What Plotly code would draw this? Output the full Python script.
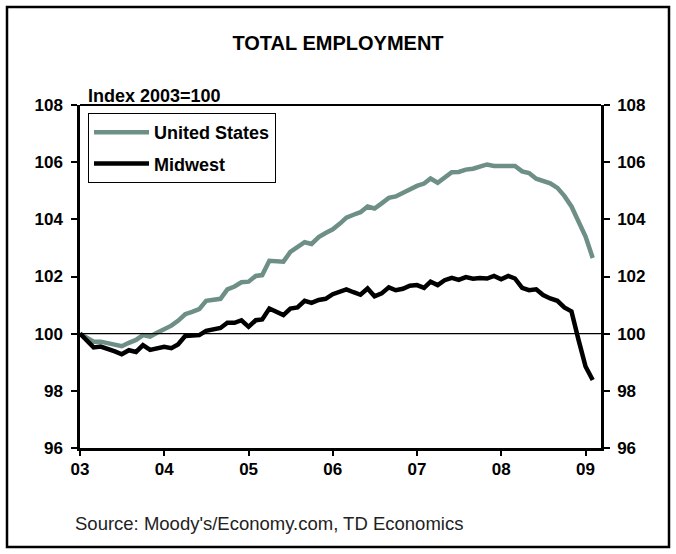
import pandas as pd
import plotly.graph_objects as go

# Monthly index, Jan 2003 = 100 (Jan 2003 .. Feb 2009)
months = pd.date_range("2003-01-01", periods=74, freq="MS")

us = [100.0, 99.85, 99.72, 99.72, 99.68, 99.62, 99.56, 99.68, 99.78, 99.95,
      99.9, 100.03, 100.15, 100.28, 100.45, 100.68, 100.76, 100.86, 101.15, 101.18,
      101.22, 101.55, 101.65, 101.8, 101.82, 102.02, 102.05, 102.55, 102.55, 102.52,
      102.86, 103.02, 103.2, 103.14, 103.38, 103.52, 103.65, 103.85, 104.06, 104.16,
      104.25, 104.45, 104.38, 104.56, 104.75, 104.8, 104.93, 105.07, 105.17, 105.25,
      105.43, 105.28, 105.48, 105.65, 105.66, 105.74, 105.77, 105.84, 105.92, 105.87,
      105.86, 105.88, 105.87, 105.68, 105.62, 105.42, 105.36, 105.26, 105.1, 104.82,
      104.45, 103.95, 103.4, 102.65]

midwest = [100.0, 99.75, 99.52, 99.55, 99.48, 99.38, 99.28, 99.42, 99.36, 99.6,
           99.43, 99.48, 99.54, 99.49, 99.62, 99.92, 99.95, 99.95, 100.1, 100.14,
           100.2, 100.38, 100.38, 100.47, 100.24, 100.47, 100.5, 100.88, 100.75, 100.65,
           100.88, 100.92, 101.15, 101.08, 101.18, 101.22, 101.38, 101.47, 101.55, 101.45,
           101.36, 101.58, 101.31, 101.41, 101.62, 101.52, 101.57, 101.68, 101.7, 101.6,
           101.82, 101.7, 101.87, 101.95, 101.88, 101.98, 101.92, 101.95, 101.93, 102.02,
           101.9, 102.02, 101.93, 101.6, 101.52, 101.55, 101.35, 101.23, 101.15, 100.92,
           100.78, 99.8, 98.85, 98.38]

year_ticks = pd.date_range("2003-01-01", "2009-01-01", freq="YS")
year_labels = ["03", "04", "05", "06", "07", "08", "09"]
y_ticks = [96, 98, 100, 102, 104, 106, 108]
y_labels = ["96", "98", "100", "102", "104", "106", "108"]

W, H = 676, 554
ml, mr, mt, mb = 80, 75, 105, 106
pw, ph = W - ml - mr, H - mt - mb


def px_x(px):
    return (px - ml) / pw


def px_y(py):
    return (H - mb - py) / ph


def bold(labels):
    return ["<b>%s</b>" % s for s in labels]


FONT = "Liberation Sans, Arial, sans-serif"
US_COLOR = "#6D8F86"

fig = go.Figure()
fig.add_trace(go.Scatter(x=months, y=us, mode="lines", name="United States",
                         line=dict(color=US_COLOR, width=4.5), legendgroup="a"))
fig.add_trace(go.Scatter(x=months, y=midwest, mode="lines", name="Midwest",
                         line=dict(color="black", width=4.5), legendgroup="b"))
# invisible trace on right axis to show it
fig.add_trace(go.Scatter(x=months[:1], y=[100], yaxis="y2", mode="markers",
                         marker=dict(opacity=0), showlegend=False, hoverinfo="skip"))

tickfont = dict(family=FONT, size=17, color="black")

fig.update_layout(
    width=W, height=H,
    margin=dict(l=ml, r=mr, t=mt, b=mb),
    paper_bgcolor="white", plot_bgcolor="white",
    font=dict(family=FONT, color="black"),
    title=dict(text="<b>TOTAL EMPLOYMENT</b>", x=0.5, xref="container", xanchor="center",
               y=1 - 43 / H, yref="container", yanchor="middle",
               font=dict(family=FONT, size=20, color="black")),
    xaxis=dict(range=[pd.Timestamp("2003-01-01"), pd.Timestamp("2009-03-09")],
               tickvals=year_ticks, ticktext=bold(year_labels), ticks="outside",
               ticklen=5, tickwidth=2, tickcolor="black", showline=True,
               linecolor="black", linewidth=2.5, showgrid=False, zeroline=False,
               tickfont=tickfont, ticklabelstandoff=-1),
    yaxis=dict(range=[96, 108], tickvals=y_ticks, ticktext=bold(y_labels),
               ticks="outside", ticklen=6,
               tickwidth=2, tickcolor="black", showline=True, linecolor="black",
               linewidth=2.5, showgrid=False, zeroline=False, tickfont=tickfont,
               ticklabelstandoff=5),
    yaxis2=dict(range=[96, 108], tickvals=y_ticks, ticktext=bold(y_labels),
                overlaying="y", side="right",
                ticks="outside", ticklen=6, tickwidth=2, tickcolor="black",
                showline=True, linecolor="black", linewidth=2.5, showgrid=False,
                zeroline=False, tickfont=tickfont, ticklabelstandoff=4),
    legend=dict(x=px_x(88), y=px_y(113), xanchor="left", yanchor="top",
                bgcolor="white", bordercolor="black", borderwidth=1,
                font=dict(family=FONT, size=18, color="black", weight="bold"),
                traceorder="grouped", tracegroupgap=5, itemwidth=55),
    showlegend=True,
)

# top frame line
fig.add_shape(type="line", xref="paper", yref="paper", x0=0, x1=1, y0=1, y1=1,
              line=dict(color="black", width=2))
# reference line at 100
fig.add_shape(type="line", xref="paper", yref="y", x0=0, x1=1, y0=100, y1=100,
              line=dict(color="black", width=1.2))
# outer border
fig.add_shape(type="rect", xref="paper", yref="paper",
              x0=px_x(7), x1=px_x(669), y0=px_y(547), y1=px_y(7),
              line=dict(color="black", width=2.5), layer="below")

fig.add_annotation(text="<b>Index 2003=100</b>", xref="paper", yref="paper",
                   x=px_x(86), y=px_y(96), xanchor="left", yanchor="middle",
                   showarrow=False,
                   font=dict(family=FONT, size=18, color="black"))
fig.add_annotation(text="Source: Moody's/Economy.com, TD Economics", xref="paper",
                   yref="paper", x=px_x(73), y=px_y(523), xanchor="left",
                   yanchor="middle", showarrow=False,
                   font=dict(family=FONT, size=18.5, color="#222222"))

fig.write_html("out.html", config={"displayModeBar": False},
               post_script="document.body.style.margin='0';document.body.style.padding='0';")
